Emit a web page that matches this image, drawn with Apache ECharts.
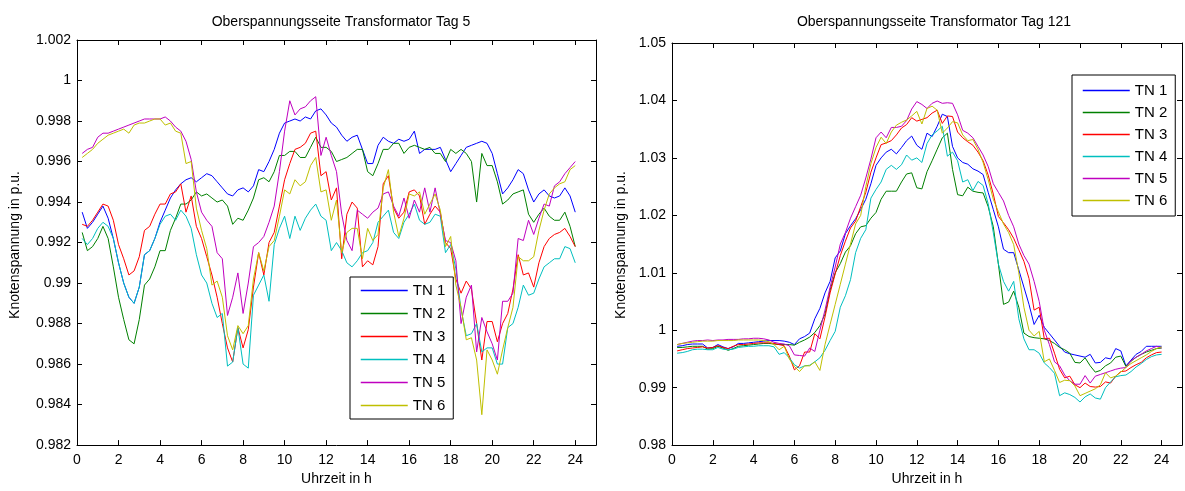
<!DOCTYPE html>
<html>
<head>
<meta charset="utf-8">
<script src="https://cdn.jsdelivr.net/npm/echarts@6/dist/echarts.min.js"></script>
<style>
html,body{margin:0;padding:0;background:#fff;}
#chart{width:1185px;height:491px;}
</style>
</head>
<body>
<div id="chart"></div>
<script>
// time stamps (h)
const hours = [
0.25,0.5,0.75,1,1.25,1.5,1.75,2,2.25,2.5,2.75,3,3.25,3.5,3.75,4,
4.25,4.5,4.75,5,5.25,5.5,5.75,6,6.25,6.5,6.75,7,7.25,7.5,7.75,8,
8.25,8.5,8.75,9,9.25,9.5,9.75,10,10.25,10.5,10.75,11,11.25,11.5,11.75,12,
12.25,12.5,12.75,13,13.25,13.5,13.75,14,14.25,14.5,14.75,15,15.25,15.5,15.75,16,
16.25,16.5,16.75,17,17.25,17.5,17.75,18,18.25,18.5,18.75,19,19.25,19.5,19.75,20,
20.25,20.5,20.75,21,21.25,21.5,21.75,22,22.25,22.5,22.75,23,23.25,23.5,23.75,24];

const seriesNames = ['TN 1','TN 2','TN 3','TN 4','TN 5','TN 6'];
const xTicks = [0,2,4,6,8,10,12,14,16,18,20,22,24];
const yTicksLeft = [0.982,0.984,0.986,0.988,0.99,0.992,0.994,0.996,0.998,1,1.002];
const yTicksRight = [0.98,0.99,1,1.01,1.02,1.03,1.04,1.05];

// ---- Tag 5 ----
const t5_TN1 = [
0.9935,0.9927,0.9930,0.9934, 0.9938,0.9932,0.9922,0.9910, 0.9900,0.9893,0.9890,0.9898, 0.9914,0.9916,0.9922,0.9930,
0.9936,0.9942,0.9946,0.9949, 0.9951,0.9952,0.9950,0.9952, 0.9954,0.9953,0.9950,0.9947, 0.9944,0.9943,0.9946,0.9947,
0.9945,0.9948,0.9956,0.9955, 0.9960,0.9966,0.9974,0.9979, 0.9980,0.9981,0.9980,0.9982, 0.9981,0.9985,0.9986,0.9983,
0.9979,0.9977,0.9973,0.9970, 0.9972,0.9973,0.9966,0.9959, 0.9959,0.9968,0.9972,0.9970, 0.9969,0.9971,0.9970,0.9971,
0.9975,0.9964,0.9966,0.9966, 0.9966,0.9967,0.9961,0.9955, 0.9959,0.9963,0.9967,0.9968, 0.9969,0.9970,0.9969,0.9964,
0.9954,0.9944,0.9947,0.9951, 0.9956,0.9954,0.9946,0.9940, 0.9944,0.9946,0.9943,0.9942, 0.9943,0.9947,0.9943,0.9935];
const t5_TN2 = [
0.9925,0.9916,0.9918,0.9922, 0.9928,0.9922,0.9908,0.9893, 0.9882,0.9872,0.9870,0.9882, 0.9899,0.9902,0.9908,0.9916,
0.9916,0.9926,0.9932,0.9939, 0.9939,0.9941,0.9945,0.9943, 0.9944,0.9942,0.9940,0.9941, 0.9938,0.9929,0.9932,0.9931,
0.9936,0.9942,0.9951,0.9952, 0.9950,0.9955,0.9963,0.9963, 0.9965,0.9965,0.9962,0.9962, 0.9967,0.9972,0.9967,0.9967,
0.9965,0.9960,0.9961,0.9962, 0.9964,0.9966,0.9966,0.9955, 0.9953,0.9959,0.9966,0.9966, 0.9969,0.9969,0.9964,0.9967,
0.9968,0.9967,0.9966,0.9967, 0.9964,0.9964,0.9960,0.9966, 0.9964,0.9966,0.9964,0.9960, 0.9940,0.9964,0.9958,0.9958,
0.9950,0.9939,0.9941,0.9944, 0.9945,0.9946,0.9934,0.9930, 0.9934,0.9937,0.9933,0.9931, 0.9931,0.9935,0.9928,0.9918];
const t5_TN3 = [
0.9929,0.9928,0.9931,0.9935, 0.9939,0.9938,0.9931,0.9919, 0.9912,0.9904,0.9906,0.9913, 0.9926,0.9928,0.9934,0.9939,
0.9939,0.9944,0.9945,0.9949, 0.9935,0.9943,0.9928,0.9922, 0.9913,0.9904,0.9893,0.9880, 0.9868,0.9861,0.9878,0.9868,
0.9877,0.9898,0.9915,0.9904, 0.9920,0.9925,0.9938,0.9951, 0.9959,0.9966,0.9967,0.9969, 0.9974,0.9975,0.9953,0.9955,
0.9941,0.9947,0.9912,0.9934, 0.9940,0.9937,0.9908,0.9911, 0.9909,0.9918,0.9949,0.9953, 0.9937,0.9932,0.9935,0.9945,
0.9946,0.9943,0.9929,0.9934, 0.9938,0.9935,0.9920,0.9917, 0.9902,0.9895,0.9901,0.9897, 0.9880,0.9862,0.9881,0.9881,
0.9871,0.9880,0.9885,0.9897, 0.9914,0.9904,0.9905,0.9898, 0.9910,0.9918,0.9922,0.9924, 0.9925,0.9927,0.9923,0.9918];
const t5_TN4 = [
0.9922,0.9919,0.9922,0.9927, 0.9930,0.9928,0.9922,0.9910, 0.9900,0.9893,0.9890,0.9898, 0.9914,0.9916,0.9922,0.9929,
0.9933,0.9934,0.9931,0.9936, 0.9933,0.9927,0.9914,0.9904, 0.9900,0.9890,0.9883,0.9885, 0.9859,0.9861,0.9878,0.9860,
0.9858,0.9894,0.9899,0.9904, 0.9891,0.9919,0.9927,0.9933, 0.9922,0.9933,0.9926,0.9932, 0.9936,0.9939,0.9933,0.9931,
0.9916,0.9920,0.9916,0.9910, 0.9908,0.9911,0.9915,0.9916, 0.9920,0.9930,0.9933,0.9936, 0.9925,0.9922,0.9930,0.9934,
0.9939,0.9931,0.9929,0.9930, 0.9934,0.9933,0.9915,0.9919, 0.9907,0.9887,0.9874,0.9875, 0.9880,0.9866,0.9868,0.9868,
0.9860,0.9860,0.9878,0.9880, 0.9888,0.9899,0.9894,0.9895, 0.9902,0.9908,0.9910,0.9912, 0.9912,0.9918,0.9917,0.9910];
const t5_TN5 = [
0.9964,0.9966,0.9967,0.9972, 0.9974,0.9974,0.9975,0.9976, 0.9977,0.9978,0.9979,0.9980, 0.9981,0.9981,0.9981,0.9981,
0.9982,0.9980,0.9977,0.9975, 0.9970,0.9961,0.9945,0.9935, 0.9931,0.9928,0.9915,0.9912, 0.9884,0.9893,0.9905,0.9885,
0.9900,0.9918,0.9920,0.9923, 0.9930,0.9938,0.9955,0.9975, 0.9990,0.9983,0.9986,0.9987, 0.9990,0.9992,0.9963,0.9972,
0.9963,0.9955,0.9934,0.9921, 0.9916,0.9936,0.9934,0.9932, 0.9935,0.9937,0.9944,0.9945, 0.9938,0.9933,0.9942,0.9932,
0.9941,0.9935,0.9947,0.9935, 0.9947,0.9934,0.9921,0.9920, 0.9911,0.9880,0.9893,0.9899, 0.9866,0.9883,0.9876,0.9870,
0.9862,0.9891,0.9891,0.9895, 0.9922,0.9921,0.9931,0.9924, 0.9932,0.9939,0.9938,0.9948, 0.9950,0.9954,0.9957,0.9960];
const t5_TN6 = [
0.9962,0.9964,0.9966,0.9969, 0.9971,0.9973,0.9974,0.9975, 0.9976,0.9974,0.9978,0.9979, 0.9979,0.9980,0.9981,0.9981,
0.9978,0.9979,0.9975,0.9974, 0.9959,0.9960,0.9937,0.9926, 0.9917,0.9899,0.9901,0.9893, 0.9874,0.9867,0.9879,0.9875,
0.9879,0.9902,0.9915,0.9906, 0.9918,0.9921,0.9933,0.9946, 0.9944,0.9951,0.9948,0.9950, 0.9958,0.9962,0.9945,0.9946,
0.9931,0.9941,0.9915,0.9925, 0.9927,0.9927,0.9912,0.9927, 0.9921,0.9924,0.9947,0.9956, 0.9935,0.9923,0.9932,0.9944,
0.9943,0.9945,0.9934,0.9939, 0.9944,0.9936,0.9918,0.9923, 0.9899,0.9888,0.9872,0.9873, 0.9862,0.9835,0.9867,0.9862,
0.9855,0.9867,0.9878,0.9888, 0.9913,0.9911,0.9911,0.9913, 0.9926,0.9936,0.9944,0.9947, 0.9949,0.9950,0.9956,0.9958];

// ---- Tag 121 ----
const t121_TN1 = [
0.9972,0.9973,0.9975,0.9976, 0.9976,0.9976,0.9969,0.9970, 0.9975,0.9971,0.9968,0.9971, 0.9977,0.9977,0.9978,0.9979,
0.9980,0.9981,0.9982,0.9982, 0.9982,0.9981,0.9979,0.9975, 0.9985,0.9989,0.9995,1.0020, 1.0038,1.0065,1.0085,1.0126,
1.0138,1.0168,1.0182,1.0194, 1.0210,1.0228,1.0255,1.0287, 1.0300,1.0310,1.0315,1.0307, 1.0318,1.0330,1.0338,1.0322,
1.0315,1.0343,1.0337,1.0355, 1.0376,1.0372,1.0320,1.0300, 1.0292,1.0289,1.0281,1.0277, 1.0271,1.0240,1.0210,1.0180,
1.0141,1.0135,1.0135,1.0105, 1.0075,1.0045,1.0010,1.0026, 1.0005,0.9994,0.9983,0.9972, 0.9962,0.9959,0.9957,0.9955,
0.9953,0.9958,0.9943,0.9944, 0.9952,0.9950,0.9968,0.9964, 0.9938,0.9948,0.9958,0.9963, 0.9972,0.9972,0.9972,0.9972];
const t121_TN2 = [
0.9970,0.9970,0.9971,0.9972, 0.9972,0.9972,0.9967,0.9968, 0.9972,0.9969,0.9965,0.9968, 0.9972,0.9973,0.9974,0.9975,
0.9976,0.9977,0.9977,0.9976, 0.9975,0.9975,0.9975,0.9974, 0.9979,0.9983,0.9988,0.9996, 1.0008,1.0028,1.0070,1.0100,
1.0116,1.0136,1.0147,1.0168, 1.0180,1.0182,1.0195,1.0205, 1.0228,1.0242,1.0242,1.0242, 1.0258,1.0272,1.0274,1.0248,
1.0246,1.0276,1.0295,1.0315, 1.0335,1.0343,1.0280,1.0236, 1.0234,1.0249,1.0242,1.0240, 1.0239,1.0215,1.0180,1.0115,
1.0045,1.0049,1.0068,1.0040, 0.9995,0.9989,0.9987,0.9986, 0.9985,0.9982,0.9977,0.9970, 0.9966,0.9960,0.9944,0.9943,
0.9952,0.9938,0.9927,0.9930, 0.9938,0.9943,0.9953,0.9955, 0.9937,0.9946,0.9953,0.9958, 0.9962,0.9965,0.9968,0.9969];
const t121_TN3 = [
0.9964,0.9966,0.9968,0.9969, 0.9970,0.9971,0.9969,0.9970, 0.9973,0.9970,0.9968,0.9972, 0.9975,0.9975,0.9976,0.9977,
0.9978,0.9978,0.9978,0.9977, 0.9975,0.9973,0.9955,0.9931, 0.9938,0.9962,0.9962,0.9994, 0.9985,1.0023,1.0065,1.0098,
1.0130,1.0155,1.0178,1.0190, 1.0215,1.0240,1.0275,1.0300, 1.0323,1.0326,1.0330,1.0340, 1.0352,1.0358,1.0370,1.0364,
1.0367,1.0370,1.0378,1.0383, 1.0360,1.0373,1.0372,1.0345, 1.0335,1.0328,1.0322,1.0310, 1.0295,1.0270,1.0237,1.0198,
1.0187,1.0175,1.0160,1.0140, 1.0120,1.0090,1.0035,1.0040, 0.9985,0.9986,0.9960,0.9932, 0.9917,0.9920,0.9905,0.9900,
0.9908,0.9902,0.9901,0.9902, 0.9910,0.9908,0.9920,0.9928, 0.9929,0.9935,0.9940,0.9944, 0.9952,0.9957,0.9961,0.9962];
const t121_TN4 = [
0.9960,0.9961,0.9963,0.9966, 0.9967,0.9967,0.9966,0.9966, 0.9970,0.9967,0.9966,0.9967, 0.9970,0.9971,0.9972,0.9972,
0.9973,0.9973,0.9973,0.9971, 0.9958,0.9961,0.9952,0.9940, 0.9934,0.9938,0.9939,0.9945, 0.9952,0.9965,0.9982,0.9998,
1.0040,1.0060,1.0088,1.0135, 1.0160,1.0175,1.0230,1.0245, 1.0258,1.0280,1.0287,1.0280, 1.0288,1.0305,1.0296,1.0300,
1.0292,1.0325,1.0340,1.0347, 1.0355,1.0303,1.0310,1.0295, 1.0258,1.0262,1.0243,1.0259, 1.0252,1.0220,1.0170,1.0115,
1.0085,1.0068,1.0085,1.0020, 0.9985,0.9966,0.9966,0.9960, 0.9943,0.9935,0.9925,0.9886, 0.9891,0.9888,0.9883,0.9875,
0.9884,0.9889,0.9882,0.9880, 0.9900,0.9910,0.9919,0.9921, 0.9922,0.9928,0.9936,0.9942, 0.9949,0.9954,0.9957,0.9958];
const t121_TN5 = [
0.9975,0.9977,0.9979,0.9981, 0.9982,0.9982,0.9983,0.9982, 0.9983,0.9983,0.9984,0.9984, 0.9984,0.9985,0.9985,0.9986,
0.9986,0.9985,0.9983,0.9979, 0.9977,0.9976,0.9973,0.9957, 0.9956,0.9955,0.9969,0.9963, 1.0000,1.0035,1.0075,1.0110,
1.0150,1.0170,1.0195,1.0215, 1.0235,1.0265,1.0298,1.0335, 1.0345,1.0335,1.0353,1.0353, 1.0355,1.0365,1.0385,1.0398,
1.0393,1.0386,1.0395,1.0399, 1.0395,1.0396,1.0395,1.0375, 1.0348,1.0343,1.0335,1.0320, 1.0305,1.0285,1.0255,1.0240,
1.0225,1.0200,1.0180,1.0150, 1.0130,1.0115,1.0085,1.0050, 1.0000,0.9975,0.9945,0.9938, 0.9922,0.9912,0.9906,0.9906,
0.9921,0.9908,0.9920,0.9923, 0.9926,0.9929,0.9932,0.9934, 0.9935,0.9947,0.9953,0.9958, 0.9964,0.9968,0.9972,0.9969];
const t121_TN6 = [
0.9975,0.9977,0.9978,0.9979, 0.9980,0.9981,0.9981,0.9981, 0.9982,0.9982,0.9982,0.9982, 0.9983,0.9983,0.9983,0.9983,
0.9983,0.9982,0.9980,0.9975, 0.9966,0.9972,0.9950,0.9937, 0.9928,0.9938,0.9938,0.9945, 0.9930,0.9975,1.0010,1.0045,
1.0080,1.0115,1.0150,1.0185, 1.0200,1.0250,1.0290,1.0318, 1.0336,1.0325,1.0345,1.0357, 1.0362,1.0366,1.0373,1.0381,
1.0359,1.0386,1.0390,1.0383, 1.0343,1.0352,1.0363,1.0361, 1.0340,1.0330,1.0332,1.0315, 1.0292,1.0262,1.0228,1.0206,
1.0185,1.0170,1.0149,1.0100, 1.0040,1.0000,0.9990,0.9998, 0.9945,0.9950,0.9930,0.9909, 0.9913,0.9912,0.9903,0.9886,
0.9890,0.9894,0.9898,0.9905, 0.9926,0.9917,0.9920,0.9927, 0.9935,0.9942,0.9947,0.9952, 0.9957,0.9963,0.9968,0.9971];

const tag5 = [t5_TN1, t5_TN2, t5_TN3, t5_TN4, t5_TN5, t5_TN6];
const tag121 = [t121_TN1, t121_TN2, t121_TN3, t121_TN4, t121_TN5, t121_TN6];
const colors = ['#0000FF', '#008000', '#FF0000', '#00BFBF', '#BF00BF', '#BFBF00'];

const FONT = "'Liberation Sans', Arial, sans-serif";
const fmtY = v => String(parseFloat(Number(v).toFixed(4)));
const fmtX = v => (xTicks.indexOf(v) >= 0 ? String(v) : '');

function xAxes(grid) {
  const common = {
    gridIndex: grid, type: 'value', min: 0, max: 25, interval: 2,
    axisLine: {show: true, onZero: false, lineStyle: {color: '#000', width: 1}},
    axisTick: {show: true, inside: true, length: 5, lineStyle: {color: '#000'}},
    splitLine: {show: false}
  };
  return [
    Object.assign({}, common, {
      position: 'bottom',
      axisLabel: {color: '#000', fontSize: 14, fontFamily: FONT, margin: 8, formatter: fmtX},
      name: 'Uhrzeit in h', nameLocation: 'middle', nameGap: 25,
      nameTextStyle: {color: '#000', fontSize: 14, fontFamily: FONT}
    }),
    Object.assign({}, common, {position: 'top', axisLabel: {show: false}})
  ];
}
function yAxes(grid, min, max, interval) {
  const common = {
    gridIndex: grid, type: 'value', min: min, max: max, interval: interval,
    axisLine: {show: true, onZero: false, lineStyle: {color: '#000', width: 1}},
    axisTick: {show: true, inside: true, length: 5, lineStyle: {color: '#000'}},
    splitLine: {show: false}
  };
  return [
    Object.assign({}, common, {
      position: 'left',
      axisLabel: {color: '#000', fontSize: 14, fontFamily: FONT, margin: 6, formatter: fmtY}
    }),
    Object.assign({}, common, {position: 'right', axisLabel: {show: false}})
  ];
}

const series = [];
tag5.forEach((vals, i) => series.push({
  name: seriesNames[i], type: 'line', xAxisIndex: 0, yAxisIndex: 0,
  data: hours.map((h, k) => [h, vals[k]]), showSymbol: false, symbol: 'none',
  lineStyle: {color: colors[i], width: 1}, itemStyle: {color: colors[i]}, animation: false
}));
tag121.forEach((vals, i) => series.push({
  name: seriesNames[i], type: 'line', xAxisIndex: 2, yAxisIndex: 2,
  data: hours.map((h, k) => [h, vals[k]]), showSymbol: false, symbol: 'none',
  lineStyle: {color: colors[i], width: 1}, itemStyle: {color: colors[i]}, animation: false
}));

const legendCommon = {
  orient: 'vertical', data: seriesNames, itemWidth: 47, itemHeight: 14,
  backgroundColor: '#fff', borderColor: '#000', borderWidth: 1, borderRadius: 0,
  itemStyle: {opacity: 0},
  lineStyle: {width: 1.5},
  textStyle: {color: '#000', fontSize: 15, fontFamily: FONT, lineHeight: 15},
  selectedMode: false
};

const chart = echarts.init(document.getElementById('chart'), null, {renderer: 'canvas'});
chart.setOption({
  animation: false,
  backgroundColor: '#fff',
  title: [
    {text: 'Oberspannungsseite Transformator Tag 5', left: 336, top: 10, textAlign: 'center',
     textStyle: {color: '#000', fontSize: 14, fontWeight: 'normal', fontFamily: FONT}},
    {text: 'Oberspannungsseite Transformator Tag 121', left: 929, top: 10, textAlign: 'center',
     textStyle: {color: '#000', fontSize: 14, fontWeight: 'normal', fontFamily: FONT}}
  ],
  grid: [
    {left: 77, top: 40, width: 519, height: 409, containLabel: false},
    {left: 672, top: 43, width: 514, height: 406, containLabel: false}
  ],
  xAxis: xAxes(0).concat(xAxes(1)),
  yAxis: yAxes(0, 0.982, 1.002, 0.002).concat(yAxes(1, 0.98, 1.05, 0.01)),
  legend: [
    Object.assign({}, legendCommon, {left: 350, top: 277, padding: [6, 8, 6, 10], itemGap: 8}),
    Object.assign({}, legendCommon, {left: 1072, top: 75, padding: [8, 8, 8, 10], itemGap: 7})
  ],
  graphic: [
    {type: 'text', x: 15, y: 245, rotation: Math.PI / 2,
     style: {text: 'Knotenspannung in p.u.', fill: '#000', font: '14px ' + FONT, textAlign: 'center', textVerticalAlign: 'middle'}},
    {type: 'text', x: 621, y: 245, rotation: Math.PI / 2,
     style: {text: 'Knotenspannung in p.u.', fill: '#000', font: '14px ' + FONT, textAlign: 'center', textVerticalAlign: 'middle'}}
  ],
  series: series
});
</script>
</body>
</html>
